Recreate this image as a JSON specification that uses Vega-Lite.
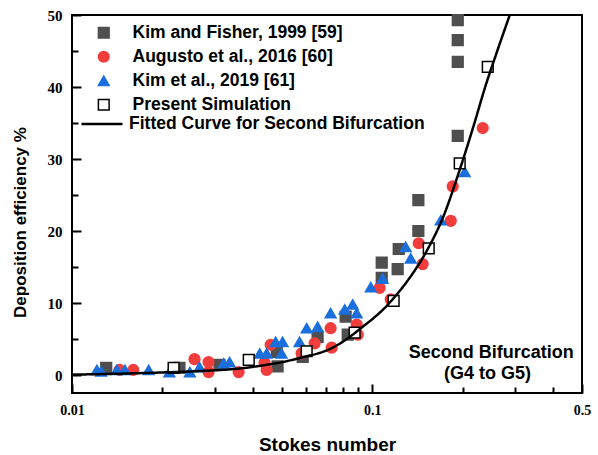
{
  "$schema": "https://vega.github.io/schema/vega-lite/v6.json",
  "width": 510,
  "height": 378,
  "autosize": "none",
  "padding": {"left": 72, "top": 15, "right": 16, "bottom": 62},
  "background": "#ffffff",
  "config": {"view": {"stroke": "#000000", "strokeWidth": 2}, "font": "Liberation Sans", "axis": {"ticks": true, "zindex": 1}},
  "datasets": {
    "points": [
      {"s": "Kim and Fisher, 1999 [59]", "st": 0.0130, "de": 1.0},
      {"s": "Kim and Fisher, 1999 [59]", "st": 0.0228, "de": 1.0},
      {"s": "Kim and Fisher, 1999 [59]", "st": 0.0310, "de": 1.4},
      {"s": "Kim and Fisher, 1999 [59]", "st": 0.0481, "de": 3.2},
      {"s": "Kim and Fisher, 1999 [59]", "st": 0.0484, "de": 1.2},
      {"s": "Kim and Fisher, 1999 [59]", "st": 0.0587, "de": 2.5},
      {"s": "Kim and Fisher, 1999 [59]", "st": 0.0658, "de": 5.3},
      {"s": "Kim and Fisher, 1999 [59]", "st": 0.0816, "de": 8.1},
      {"s": "Kim and Fisher, 1999 [59]", "st": 0.0829, "de": 5.6},
      {"s": "Kim and Fisher, 1999 [59]", "st": 0.1076, "de": 15.6},
      {"s": "Kim and Fisher, 1999 [59]", "st": 0.1076, "de": 13.5},
      {"s": "Kim and Fisher, 1999 [59]", "st": 0.1216, "de": 14.7},
      {"s": "Kim and Fisher, 1999 [59]", "st": 0.1226, "de": 17.5},
      {"s": "Kim and Fisher, 1999 [59]", "st": 0.1425, "de": 24.3},
      {"s": "Kim and Fisher, 1999 [59]", "st": 0.1425, "de": 20.0},
      {"s": "Kim and Fisher, 1999 [59]", "st": 0.1928, "de": 49.3},
      {"s": "Kim and Fisher, 1999 [59]", "st": 0.1928, "de": 46.5},
      {"s": "Kim and Fisher, 1999 [59]", "st": 0.1928, "de": 43.5},
      {"s": "Kim and Fisher, 1999 [59]", "st": 0.1928, "de": 33.2},
      {"s": "Augusto et al., 2016 [60]", "st": 0.0144, "de": 0.7},
      {"s": "Augusto et al., 2016 [60]", "st": 0.0160, "de": 0.7},
      {"s": "Augusto et al., 2016 [60]", "st": 0.0256, "de": 2.2},
      {"s": "Augusto et al., 2016 [60]", "st": 0.0285, "de": 1.8},
      {"s": "Augusto et al., 2016 [60]", "st": 0.0285, "de": 0.4},
      {"s": "Augusto et al., 2016 [60]", "st": 0.0359, "de": 0.4},
      {"s": "Augusto et al., 2016 [60]", "st": 0.0438, "de": 1.7},
      {"s": "Augusto et al., 2016 [60]", "st": 0.0445, "de": 0.7},
      {"s": "Augusto et al., 2016 [60]", "st": 0.0459, "de": 4.2},
      {"s": "Augusto et al., 2016 [60]", "st": 0.0582, "de": 3.0},
      {"s": "Augusto et al., 2016 [60]", "st": 0.0643, "de": 4.4},
      {"s": "Augusto et al., 2016 [60]", "st": 0.0727, "de": 6.5},
      {"s": "Augusto et al., 2016 [60]", "st": 0.0733, "de": 3.8},
      {"s": "Augusto et al., 2016 [60]", "st": 0.0888, "de": 7.0},
      {"s": "Augusto et al., 2016 [60]", "st": 0.0895, "de": 5.6},
      {"s": "Augusto et al., 2016 [60]", "st": 0.1059, "de": 12.1},
      {"s": "Augusto et al., 2016 [60]", "st": 0.1153, "de": 10.5},
      {"s": "Augusto et al., 2016 [60]", "st": 0.1429, "de": 18.3},
      {"s": "Augusto et al., 2016 [60]", "st": 0.1473, "de": 15.4},
      {"s": "Augusto et al., 2016 [60]", "st": 0.1827, "de": 21.4},
      {"s": "Augusto et al., 2016 [60]", "st": 0.1855, "de": 26.2},
      {"s": "Augusto et al., 2016 [60]", "st": 0.2335, "de": 34.3},
      {"s": "Kim et al., 2019 [61]", "st": 0.0121, "de": 0.7},
      {"s": "Kim et al., 2019 [61]", "st": 0.0125, "de": 0.5},
      {"s": "Kim et al., 2019 [61]", "st": 0.0141, "de": 0.7},
      {"s": "Kim et al., 2019 [61]", "st": 0.0150, "de": 0.7},
      {"s": "Kim et al., 2019 [61]", "st": 0.0180, "de": 0.7},
      {"s": "Kim et al., 2019 [61]", "st": 0.0211, "de": 0.4},
      {"s": "Kim et al., 2019 [61]", "st": 0.0247, "de": 0.4},
      {"s": "Kim et al., 2019 [61]", "st": 0.0266, "de": 1.1},
      {"s": "Kim et al., 2019 [61]", "st": 0.0320, "de": 1.6},
      {"s": "Kim et al., 2019 [61]", "st": 0.0335, "de": 1.8},
      {"s": "Kim et al., 2019 [61]", "st": 0.0422, "de": 3.0},
      {"s": "Kim et al., 2019 [61]", "st": 0.0445, "de": 3.0},
      {"s": "Kim et al., 2019 [61]", "st": 0.0477, "de": 4.6},
      {"s": "Kim et al., 2019 [61]", "st": 0.0499, "de": 3.0},
      {"s": "Kim et al., 2019 [61]", "st": 0.0503, "de": 4.6},
      {"s": "Kim et al., 2019 [61]", "st": 0.0573, "de": 4.6},
      {"s": "Kim et al., 2019 [61]", "st": 0.0605, "de": 6.5},
      {"s": "Kim et al., 2019 [61]", "st": 0.0658, "de": 6.7},
      {"s": "Kim et al., 2019 [61]", "st": 0.0727, "de": 8.6},
      {"s": "Kim et al., 2019 [61]", "st": 0.0810, "de": 9.1},
      {"s": "Kim et al., 2019 [61]", "st": 0.0861, "de": 9.8},
      {"s": "Kim et al., 2019 [61]", "st": 0.0888, "de": 8.6},
      {"s": "Kim et al., 2019 [61]", "st": 0.0989, "de": 12.2},
      {"s": "Kim et al., 2019 [61]", "st": 0.1084, "de": 13.4},
      {"s": "Kim et al., 2019 [61]", "st": 0.1293, "de": 17.8},
      {"s": "Kim et al., 2019 [61]", "st": 0.1344, "de": 16.2},
      {"s": "Kim et al., 2019 [61]", "st": 0.1692, "de": 21.5},
      {"s": "Kim et al., 2019 [61]", "st": 0.2034, "de": 28.2},
      {"s": "Present Simulation", "st": 0.0218, "de": 1.0},
      {"s": "Present Simulation", "st": 0.0388, "de": 2.1},
      {"s": "Present Simulation", "st": 0.0605, "de": 3.3},
      {"s": "Present Simulation", "st": 0.0874, "de": 5.9},
      {"s": "Present Simulation", "st": 0.1179, "de": 10.3},
      {"s": "Present Simulation", "st": 0.1543, "de": 17.6},
      {"s": "Present Simulation", "st": 0.1957, "de": 29.4},
      {"s": "Present Simulation", "st": 0.2427, "de": 42.8}
    ],
    "curve": [
      {"c": "Fitted Curve for Second Bifurcation", "st": 0.0100, "de": 0.05},
      {"c": "Fitted Curve for Second Bifurcation", "st": 0.0150, "de": 0.2},
      {"c": "Fitted Curve for Second Bifurcation", "st": 0.0199, "de": 0.35},
      {"c": "Fitted Curve for Second Bifurcation", "st": 0.0250, "de": 0.5},
      {"c": "Fitted Curve for Second Bifurcation", "st": 0.0299, "de": 0.65},
      {"c": "Fitted Curve for Second Bifurcation", "st": 0.0350, "de": 0.85},
      {"c": "Fitted Curve for Second Bifurcation", "st": 0.0396, "de": 1.1},
      {"c": "Fitted Curve for Second Bifurcation", "st": 0.0450, "de": 1.45},
      {"c": "Fitted Curve for Second Bifurcation", "st": 0.0503, "de": 1.8},
      {"c": "Fitted Curve for Second Bifurcation", "st": 0.0573, "de": 2.35},
      {"c": "Fitted Curve for Second Bifurcation", "st": 0.0605, "de": 2.6},
      {"c": "Fitted Curve for Second Bifurcation", "st": 0.0660, "de": 3.0},
      {"c": "Fitted Curve for Second Bifurcation", "st": 0.0722, "de": 3.6},
      {"c": "Fitted Curve for Second Bifurcation", "st": 0.0790, "de": 4.5},
      {"c": "Fitted Curve for Second Bifurcation", "st": 0.0861, "de": 5.6},
      {"c": "Fitted Curve for Second Bifurcation", "st": 0.0930, "de": 6.7},
      {"c": "Fitted Curve for Second Bifurcation", "st": 0.1010, "de": 7.9},
      {"c": "Fitted Curve for Second Bifurcation", "st": 0.1100, "de": 9.3},
      {"c": "Fitted Curve for Second Bifurcation", "st": 0.1186, "de": 10.8},
      {"c": "Fitted Curve for Second Bifurcation", "st": 0.1328, "de": 13.4},
      {"c": "Fitted Curve for Second Bifurcation", "st": 0.1527, "de": 17.4},
      {"c": "Fitted Curve for Second Bifurcation", "st": 0.1718, "de": 21.8},
      {"c": "Fitted Curve for Second Bifurcation", "st": 0.1957, "de": 28.5},
      {"c": "Fitted Curve for Second Bifurcation", "st": 0.2195, "de": 35.1},
      {"c": "Fitted Curve for Second Bifurcation", "st": 0.2379, "de": 40.0},
      {"c": "Fitted Curve for Second Bifurcation", "st": 0.2600, "de": 44.8},
      {"c": "Fitted Curve for Second Bifurcation", "st": 0.2873, "de": 50.0}
    ],
    "notes": [
      {"t": "Second Bifurcation", "st": 0.2493, "de": 2.3},
      {"t": "(G4 to G5)", "st": 0.2421, "de": -0.6}
    ]
  },
  "layer": [
    {
      "data": {"name": "points"},
      "mark": {"type": "point", "filled": true, "strokeWidth": 1.5, "opacity": 1, "size": 115},
      "encoding": {
        "x": {
          "field": "st", "type": "quantitative",
          "scale": {"type": "log", "domain": [0.01, 0.5], "nice": false},
          "axis": {
            "orient": "bottom", "values": [0.01, 0.1, 0.5], "format": "~g",
            "title": "Stokes number", "domain": false, "grid": false,
            "tickSize": -9, "tickWidth": 2, "tickColor": "#000000",
            "labelFont": "Liberation Serif", "labelFontWeight": "bold", "labelFontSize": 14,
            "labelColor": "#000000", "labelPadding": 19, "labelFlush": false, "labelOverlap": false,
            "titleFont": "Liberation Sans", "titleFontWeight": "bold", "titleFontSize": 19,
            "titleColor": "#000000", "titleY": 57, "titleBaseline": "alphabetic"
          }
        },
        "y": {
          "field": "de", "type": "quantitative",
          "scale": {"domain": [-2.5, 50], "nice": false, "zero": false},
          "axis": {
            "orient": "left", "values": [0, 10, 20, 30, 40, 50],
            "title": "Deposition efficiency %", "domain": false, "grid": false,
            "tickSize": -9, "tickWidth": 2, "tickColor": "#000000",
            "labelFont": "Liberation Serif", "labelFontWeight": "bold", "labelFontSize": 15,
            "labelColor": "#000000", "labelPadding": 19, "labelFlush": false, "labelOverlap": false,
            "titleFont": "Liberation Sans", "titleFontWeight": "bold", "titleFontSize": 17,
            "titleColor": "#000000", "titleX": -47, "titleY": 207, "titleBaseline": "alphabetic"
          }
        },
        "shape": {
          "field": "s", "type": "nominal",
          "scale": {
            "domain": ["Kim and Fisher, 1999 [59]", "Augusto et al., 2016 [60]", "Kim et al., 2019 [61]", "Present Simulation"],
            "range": ["square", "circle", "triangle-up", "square"]
          },
          "legend": {
            "orient": "none", "legendX": 23, "legendY": 9, "title": null, "padding": 0,
            "labelFont": "Liberation Sans", "labelFontWeight": "bold", "labelFontSize": 17.5,
            "labelColor": "#000000", "labelOffset": 20, "rowPadding": 5, "labelLimit": 500,
            "symbolSize": 115, "symbolStrokeWidth": 1.5
          }
        },
        "fill": {
          "field": "s", "type": "nominal",
          "scale": {
            "domain": ["Kim and Fisher, 1999 [59]", "Augusto et al., 2016 [60]", "Kim et al., 2019 [61]", "Present Simulation"],
            "range": ["#4f4f4f", "#f23d3d", "#1b6fdc", "#ffffff"]
          }
        },
        "stroke": {
          "field": "s", "type": "nominal",
          "scale": {
            "domain": ["Kim and Fisher, 1999 [59]", "Augusto et al., 2016 [60]", "Kim et al., 2019 [61]", "Present Simulation"],
            "range": ["#4f4f4f", "#f23d3d", "#1b6fdc", "#000000"]
          }
        }
      }
    },
    {
      "data": {"name": "curve"},
      "mark": {"type": "line", "color": "#000000", "strokeWidth": 2.5, "interpolate": "monotone", "clip": true},
      "encoding": {
        "x": {
          "field": "st", "type": "quantitative",
          "scale": {"type": "log", "domain": [0.01, 0.5], "nice": false},
          "axis": {
            "orient": "bottom", "values": [0.02, 0.03, 0.04, 0.05, 0.06, 0.07, 0.08, 0.09, 0.2, 0.3, 0.4],
            "labels": false, "title": null, "domain": false, "grid": false,
            "tickSize": -6, "tickWidth": 2, "tickColor": "#000000"
          }
        },
        "y": {
          "field": "de", "type": "quantitative",
          "scale": {"domain": [-2.5, 50], "nice": false, "zero": false},
          "axis": {
            "orient": "left", "values": [5, 15, 25, 35, 45],
            "labels": false, "title": null, "domain": false, "grid": false,
            "tickSize": -6, "tickWidth": 2, "tickColor": "#000000"
          }
        },
        "strokeDash": {
          "field": "c", "type": "nominal",
          "scale": {"domain": ["Fitted Curve for Second Bifurcation"], "range": [[1, 0]]},
          "legend": {
            "orient": "none", "legendX": 8, "legendY": 87, "title": null, "padding": 0,
            "labelFont": "Liberation Sans", "labelFontWeight": "bold", "labelFontSize": 17.5,
            "labelColor": "#000000", "labelOffset": 5, "labelLimit": 500,
            "symbolType": "stroke", "symbolSize": 1681, "symbolStrokeWidth": 2.5,
            "symbolStrokeColor": "#000000"
          }
        }
      }
    },
    {
      "data": {"name": "notes"},
      "mark": {"type": "text", "font": "Liberation Sans", "fontWeight": "bold", "fontSize": 18, "align": "center", "baseline": "alphabetic", "color": "#000000"},
      "encoding": {
        "x": {"field": "st", "type": "quantitative", "axis": null},
        "y": {"field": "de", "type": "quantitative", "axis": null},
        "text": {"field": "t"}
      }
    }
  ],
  "resolve": {"axis": {"x": "independent", "y": "independent"}}
}
